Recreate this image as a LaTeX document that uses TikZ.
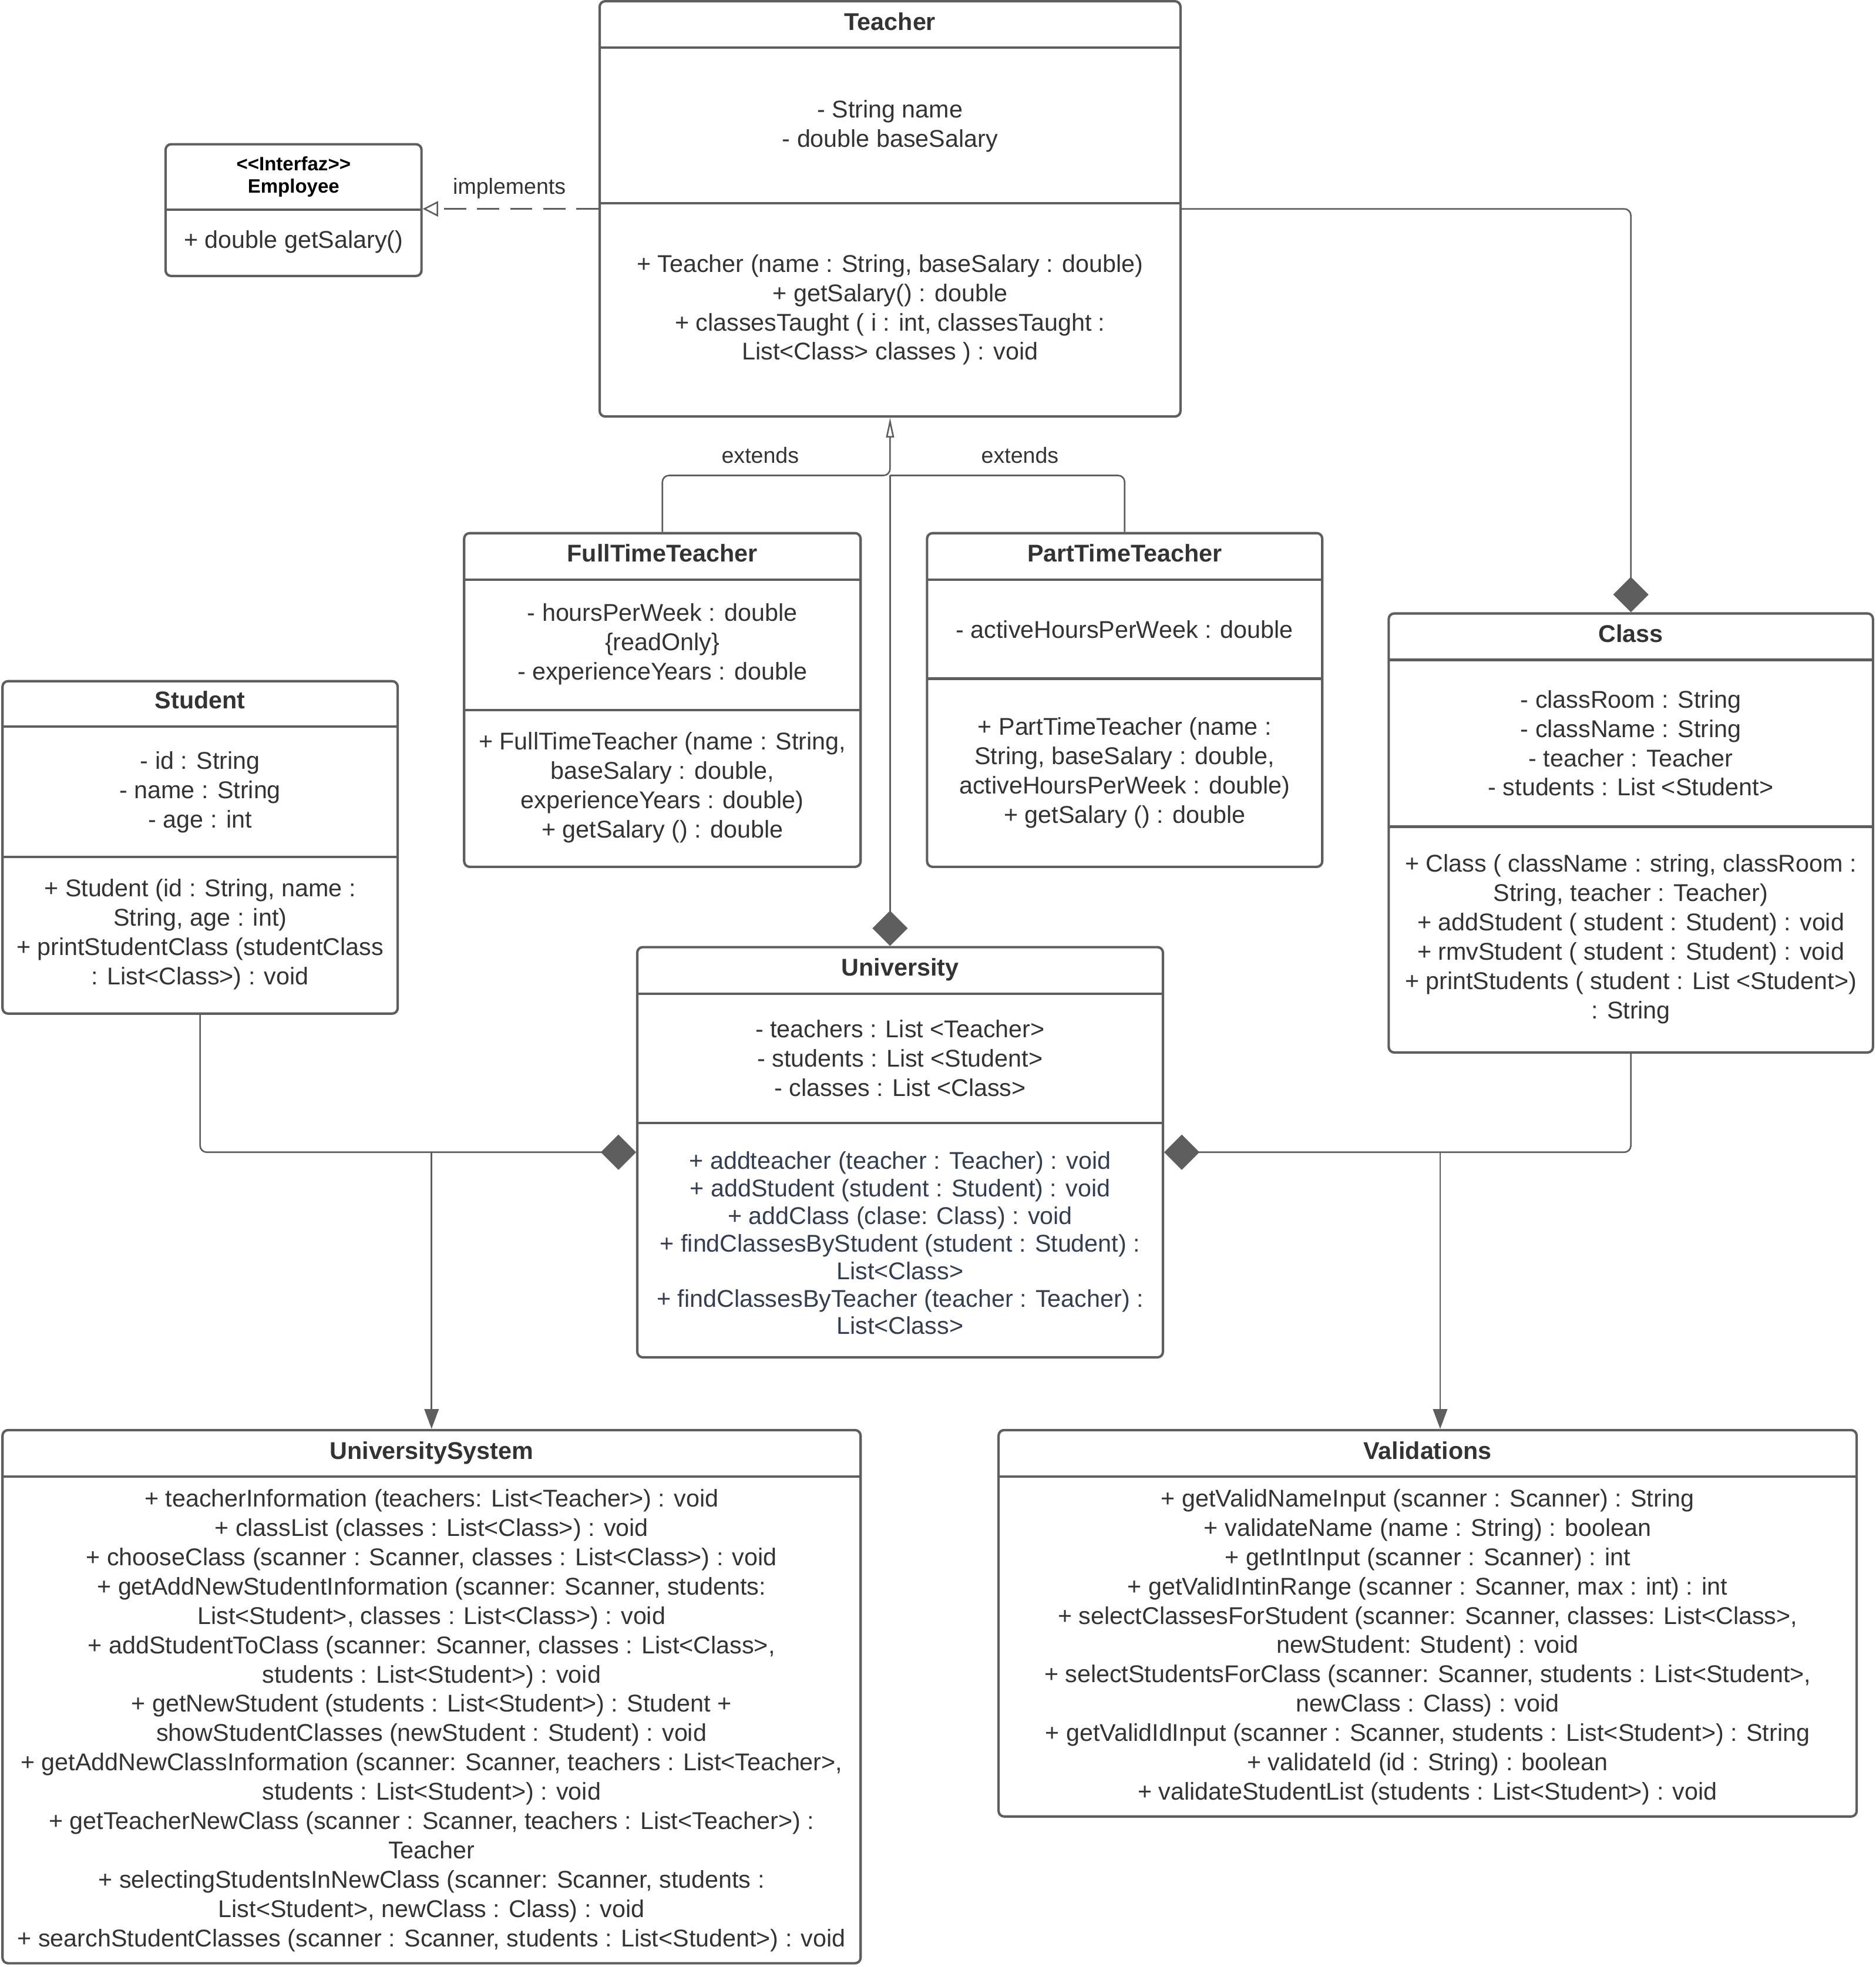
\documentclass[tikz,border=0pt]{standalone}
\usepackage{fontspec}
\setmainfont{Liberation Sans}
\usetikzlibrary{arrows.meta,fit,calc}
\definecolor{edge}{RGB}{94,94,94}
\definecolor{ink}{RGB}{51,51,51}
\definecolor{slate}{RGB}{52,62,82}

\begin{document}
\begin{tikzpicture}[x=0.02cm,y=-0.02cm,
  umlbox/.style={draw=edge, line width=1.1pt, rounded corners=2.5pt, fill=white, inner sep=0pt},
  sep/.style={draw=edge, line width=1.1pt},
  txt/.style={text=ink, align=center, inner sep=0pt, yshift=-1.1pt, font=\fontsize{11}{13.3}\selectfont},
  ttl/.style={text=ink, align=center, inner sep=0pt, text depth=0pt, font=\fontsize{11}{13.3}\selectfont\bfseries},
  lbl/.style={text=ink, inner sep=0pt, font=\fontsize{10}{12}\selectfont},
  conn/.style={draw=edge, line width=0.7pt, rounded corners=3pt},
  comp/.style={conn, {Diamond[length=16pt,width=16pt]}-},
  nav/.style={conn, -{Triangle[length=9pt,width=6.5pt]}},
  gen/.style={conn, -{Triangle[open,length=9pt,width=3.6pt]}},
  real/.style={conn, dash pattern=on 10pt off 5pt, -{Triangle[open,length=7pt,width=7pt]}}
]
\useasboundingbox (0,0) rectangle (1495,1568);

% ---------- class boxes ----------
\node[umlbox, fit={(478,1) (941,332)}] (teacher) {};
\draw[sep] (478,38) -- (941,38);
\draw[sep] (478,162) -- (941,162);
\node[ttl] (teacher-t) at (709.5,17) {Teacher};
\node[txt] (teacher-a) at (709.5,98.5) {- String name\\- double baseSalary};
\node[txt] (teacher-m) at (709.5,245) {+ Teacher (name : String, baseSalary : double)\\+ getSalary() : double\\+ classesTaught ( i : int, classesTaught :\\List<Class> classes ) : void};

\node[umlbox, fit={(132,115) (336,220)}] (employee) {};
\draw[sep] (132,167) -- (336,167);
\node[txt, text=black, font=\fontsize{8.8}{10.2}\selectfont\bfseries] (employee-t) at (234,139) {<{}<Interfaz>{}>\\Employee};
\node[txt] (employee-m) at (234,191) {+ double getSalary()};

\node[umlbox, fit={(370,425) (686,691)}] (ftt) {};
\draw[sep] (370,462) -- (686,462);
\draw[sep] (370,566) -- (686,566);
\node[ttl] (ftt-t) at (528,441) {FullTimeTeacher};
\node[txt] (ftt-a) at (528,511.5) {- hoursPerWeek : double\\\{readOnly\}\\- experienceYears : double};
\node[txt] (ftt-m) at (528,626) {+ FullTimeTeacher (name : String,\\baseSalary : double,\\experienceYears : double)\\+ getSalary () : double};

\node[umlbox, fit={(739,425) (1054,691)}] (ptt) {};
\draw[sep] (739,462) -- (1054,462);
\draw[sep] (739,541) -- (1054,541);
\node[ttl] (ptt-t) at (896.5,441) {PartTimeTeacher};
\node[txt] (ptt-a) at (896.5,500) {- activeHoursPerWeek : double};
\node[txt] (ptt-m) at (896.5,614) {+ PartTimeTeacher (name :\\String, baseSalary : double,\\activeHoursPerWeek : double)\\+ getSalary () : double};

\node[umlbox, fit={(2,543) (317,808)}] (student) {};
\draw[sep] (2,579) -- (317,579);
\draw[sep] (2,683) -- (317,683);
\node[ttl] (student-t) at (159.5,558) {Student};
\node[txt] (student-a) at (159.5,629.5) {- id : String\\- name : String\\- age : int};
\node[txt] (student-m) at (159.5,743) {+ Student (id : String, name :\\String, age : int)\\+ printStudentClass (studentClass\\: List<Class>) : void};

\node[umlbox, fit={(1107,489) (1493,839)}] (class) {};
\draw[sep] (1107,526) -- (1493,526);
\draw[sep] (1107,659) -- (1493,659);
\node[ttl] (class-t) at (1300,505) {Class};
\node[txt] (class-a) at (1300,590.5) {- classRoom : String\\- className : String\\- teacher : Teacher\\- students : List <Student>};
\node[txt] (class-m) at (1300,746.5) {+ Class ( className : string, classRoom :\\String, teacher : Teacher)\\+ addStudent ( student : Student) : void\\+ rmvStudent ( student : Student) : void\\+ printStudents ( student : List <Student>)\\: String};

\node[umlbox, fit={(508,755) (927,1082)}] (univ) {};
\draw[sep] (508,792) -- (927,792);
\draw[sep] (508,895) -- (927,895);
\node[ttl] (univ-t) at (717.5,771) {University};
\node[txt] (univ-a) at (717.5,841.5) {- teachers : List <Teacher>\\- students : List <Student>\\- classes : List <Class>};
\node[txt, text=slate, font=\fontsize{11}{12.5}\selectfont] (univ-m) at (717.5,989) {+ addteacher (teacher : Teacher) : void\\+ addStudent (student : Student) : void\\+ addClass (clase: Class) : void\\+ findClassesByStudent (student : Student) :\\List<Class>\\+ findClassesByTeacher (teacher : Teacher) :\\List<Class>};

\node[umlbox, fit={(2,1140) (686,1565)}] (usys) {};
\draw[sep] (2,1177) -- (686,1177);
\node[ttl] (usys-t) at (344,1156) {UniversitySystem};
\node[txt] (usys-m) at (344,1369.5) {+ teacherInformation (teachers: List<Teacher>) : void\\+ classList (classes : List<Class>) : void\\+ chooseClass (scanner : Scanner, classes : List<Class>) : void\\+ getAddNewStudentInformation (scanner: Scanner, students:\\List<Student>, classes : List<Class>) : void\\+ addStudentToClass (scanner: Scanner, classes : List<Class>,\\students : List<Student>) : void\\+ getNewStudent (students : List<Student>) : Student +\\showStudentClasses (newStudent : Student) : void\\+ getAddNewClassInformation (scanner: Scanner, teachers : List<Teacher>,\\students : List<Student>) : void\\+ getTeacherNewClass (scanner : Scanner, teachers : List<Teacher>) :\\Teacher\\+ selectingStudentsInNewClass (scanner: Scanner, students :\\List<Student>, newClass : Class) : void\\+ searchStudentClasses (scanner : Scanner, students : List<Student>) : void};

\node[umlbox, fit={(796,1140) (1480,1448)}] (valid) {};
\draw[sep] (796,1177) -- (1480,1177);
\node[ttl] (valid-t) at (1138,1156) {Validations};
\node[txt] (valid-m) at (1138,1311) {+ getValidNameInput (scanner : Scanner) : String\\+ validateName (name : String) : boolean\\+ getIntInput (scanner : Scanner) : int\\+ getValidIntinRange (scanner : Scanner, max : int) : int\\+ selectClassesForStudent (scanner: Scanner, classes: List<Class>,\\newStudent: Student) : void\\+ selectStudentsForClass (scanner: Scanner, students : List<Student>,\\newClass : Class) : void\\+ getValidIdInput (scanner : Scanner, students : List<Student>) : String\\+ validateId (id : String) : boolean\\+ validateStudentList (students : List<Student>) : void};

% ---------- relations ----------
\draw[real] (teacher.west) -- (teacher.west -| employee.east);
\node[lbl] (impl-l) at (406,150) {implements};

\coordinate (junc) at (709.5,379);
\draw[gen] (ftt.north) |- (junc) -- (teacher.south);
\draw[conn] (ptt.north) |- (junc);
\draw[comp] (teacher.south |- univ.north) -- (junc);
\node[lbl] (ext-l) at (606,363) {extends};
\node[lbl] (ext-r) at (813,363) {extends};

\draw[comp] (class.north) |- (teacher.east);

\draw[comp] (univ.west) -| (student.south);
\draw[comp] (univ.east) -| (class.south);

\draw[nav] (usys.north |- univ.west) -- (usys.north);
\coordinate (vin) at ($(valid.north)+(10,0)$);
\draw[nav] (vin |- univ.east) -- (vin);
\end{tikzpicture}
\end{document}
